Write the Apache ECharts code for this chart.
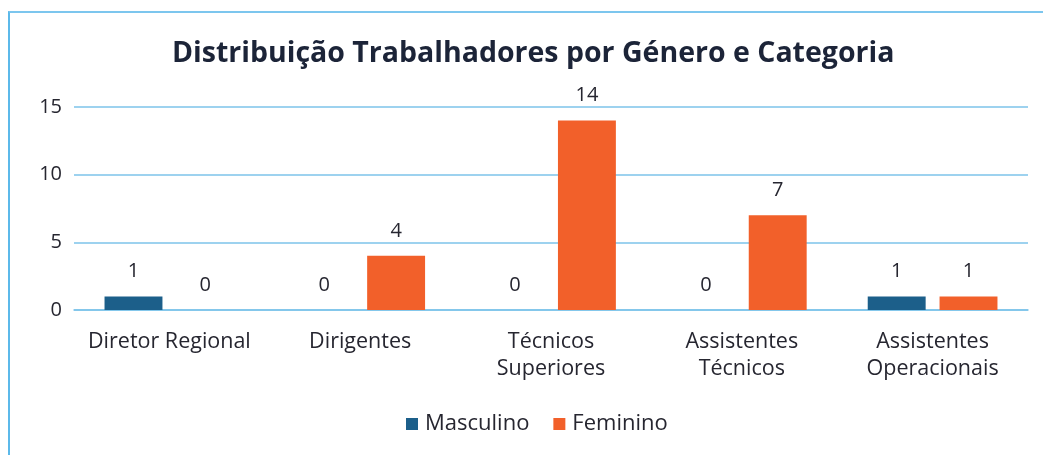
<!DOCTYPE html>
<html>
<head>
<meta charset="utf-8">
<script src="https://cdn.jsdelivr.net/npm/echarts@6/dist/echarts.min.js"></script>
<style>
html,body{margin:0;padding:0;background:#fff;}
#wrap{position:absolute;left:0;top:0;width:1043px;height:455px;overflow:hidden;}
#frame{position:absolute;left:8px;top:11px;width:1100px;height:500px;border-left:2px solid #5cb9ea;border-top:2px solid #7cc6ee;}
#chart{position:absolute;left:0;top:0;width:1043px;height:455px;}
</style>
</head>
<body>
<div id="wrap"><div id="frame"></div><div id="chart"></div></div>
<script>
const titleText = 'Distribuição Trabalhadores por Género e Categoria';
const categories = ['Diretor Regional', 'Dirigentes', 'Técnicos\nSuperiores', 'Assistentes\nTécnicos', 'Assistentes\nOperacionais'];
const seriesNames = ['Masculino', 'Feminino'];
const masculino = [1, 0, 0, 0, 1];
const feminino = [0, 4, 14, 7, 1];
const yTicks = [0, 5, 10, 15];

const FONT = '"Open Sans", Roboto, sans-serif';
const TXT = '#262630';
const chart = echarts.init(document.getElementById('chart'), null, {renderer: 'canvas'});
const labelCfg = {show: true, position: 'top', distance: 15, color: TXT, fontSize: 20, fontFamily: FONT};
chart.setOption({
  backgroundColor: 'transparent',
  animation: false,
  title: {
    text: titleText, left: 167, top: 34,
    textStyle: {fontSize: 28.5, fontWeight: 'bold', color: '#1c2438', fontFamily: FONT}
  },
  legend: {
    data: seriesNames, bottom: 15, left: 401, icon: 'rect', itemWidth: 12, itemHeight: 12, itemGap: 24,
    textStyle: {fontSize: 22, color: TXT, fontFamily: FONT, padding: [0, 0, 0, 2]}
  },
  grid: {left: 74, right: 15, top: 107, bottom: 145, containLabel: false},
  xAxis: {
    type: 'category', data: categories,
    axisLine: {show: true, lineStyle: {color: '#7cc3ea', width: 1.5}},
    axisTick: {show: false},
    axisLabel: {color: TXT, fontSize: 21.5, fontFamily: FONT, margin: 18, lineHeight: 27, interval: 0}
  },
  yAxis: {
    type: 'value', min: yTicks[0], max: yTicks[yTicks.length - 1], interval: 5,
    axisLine: {show: false}, axisTick: {show: false},
    axisLabel: {color: TXT, fontSize: 20, fontFamily: FONT, margin: 12},
    splitLine: {lineStyle: {color: '#7cc3ea', width: 1.5}}
  },
  series: [
    {name: seriesNames[0], type: 'bar', data: masculino, barGap: '24%', barCategoryGap: '32%',
     itemStyle: {color: '#1c5f8a'}, label: labelCfg},
    {name: seriesNames[1], type: 'bar', data: feminino, barGap: '24%', barCategoryGap: '32%',
     itemStyle: {color: '#f2602a'}, label: labelCfg}
  ]
});
</script>
</body>
</html>
